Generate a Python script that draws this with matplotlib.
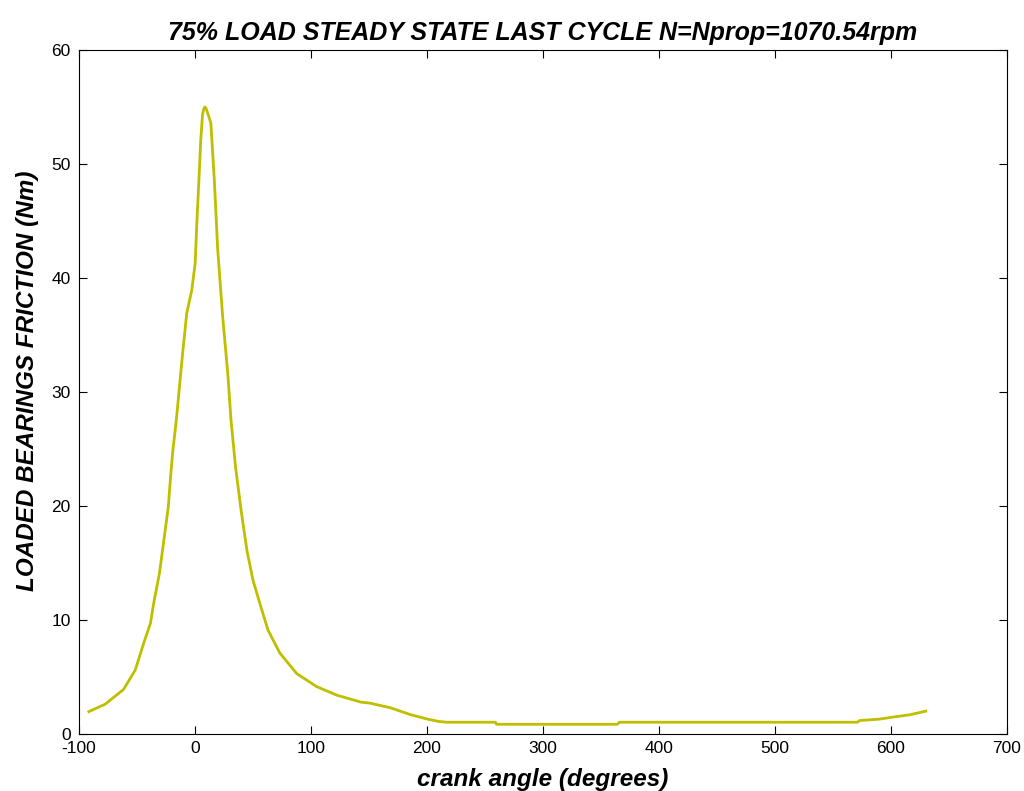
import matplotlib
matplotlib.use("Agg")
import matplotlib.pyplot as plt

# crank angle (deg) and loaded bearings friction torque (Nm)
crank_angle = [
    -91.5, -77.6, -61.6, -51.5, -44.2, -38.4, -35.5, -30.6, -26.8, -23.0, -21.0, -19.0,
    -16.1, -10.9, -7.1, -2.8, 0.2, 1.6, 3.7, 5.0, 6.5, 7.5, 8.5, 9.5, 10.5, 13.7, 16.7,
    19.6, 23.9, 28.3, 31.1, 35.0, 39.8, 44.8, 50.0, 55.8, 63.0, 73.2, 87.7, 105.0,
    122.4, 142.8, 151.0, 168.5, 185.7, 200.6, 210.0, 217.0, 259.0, 260.0, 364.0, 366.0,
    571.0, 573.0, 590.0, 601.0, 616.0, 630.0,
]
friction = [
    1.96, 2.6, 3.9, 5.6, 7.96, 9.7, 11.5, 14.1, 17.0, 19.9, 22.6, 24.9,
    27.5, 33.1, 36.9, 38.9, 41.3, 44.8, 49.2, 52.1, 54.3, 54.8, 55.0, 54.9, 54.6, 53.6, 48.6,
    42.5, 36.6, 31.6, 27.5, 23.4, 19.6, 16.1, 13.5, 11.5, 9.1, 7.1, 5.3, 4.15,
    3.4, 2.8, 2.7, 2.3, 1.7, 1.3, 1.1, 1.03, 1.03, 0.85, 0.85, 1.03,
    1.03, 1.18, 1.3, 1.47, 1.68, 2.0,
]

x_ticks = [-100, 0, 100, 200, 300, 400, 500, 600, 700]
y_ticks = [0, 10, 20, 30, 40, 50, 60]

plt.rcParams.update({
    "font.family": ["Liberation Sans", "DejaVu Sans"],
    "font.size": 12,
    "axes.unicode_minus": False,
})

fig = plt.figure(figsize=(10.24, 7.91), dpi=100)
ax = fig.add_axes([0.0771, 0.0721, 0.9063, 0.8647])

ax.plot(crank_angle, friction, color="#BFBF00", linewidth=2.0)

ax.set_xlim(-100, 700)
ax.set_ylim(0, 60)
ax.set_xticks(x_ticks)
ax.set_yticks(y_ticks)
ax.tick_params(direction="in", length=6, width=0.8, top=True, right=True,
               labelsize=12.5)
ax.tick_params(axis="x", pad=5)
ax.tick_params(axis="y", pad=6)
for side in ax.spines.values():
    side.set_linewidth(0.8)

ax.set_title("75% LOAD STEADY STATE LAST CYCLE N=Nprop=1070.54rpm",
             fontsize=18, fontweight="bold", fontstyle="italic", pad=7)
ax.set_xlabel("crank angle (degrees)", fontsize=17.5, fontweight="bold",
              fontstyle="italic", labelpad=9)
ax.set_ylabel("LOADED BEARINGS FRICTION (Nm)", fontsize=17.5, fontweight="bold",
              fontstyle="italic")
ax.yaxis.set_label_coords(-0.043, 0.516)

fig.savefig("out.png", dpi=100)
